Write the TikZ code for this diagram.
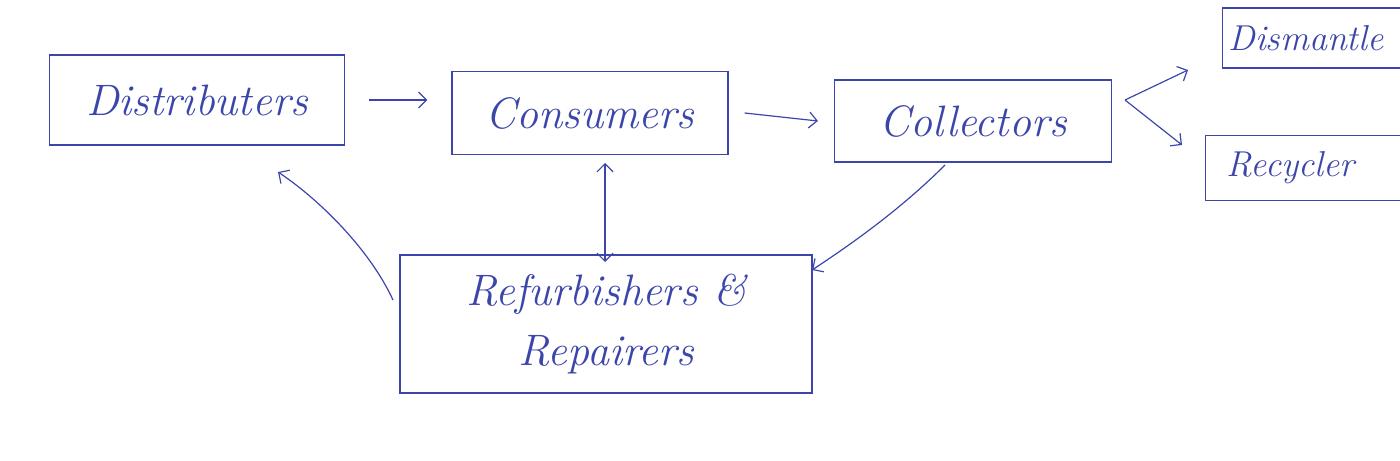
\documentclass[tikz,border=0pt]{standalone}
\usetikzlibrary{arrows.meta}
\definecolor{ink}{RGB}{60,70,170}
\begin{document}
\begin{tikzpicture}[x=0.5pt,y=-0.5pt,
  box/.style={draw=ink,line width=0.6pt,inner sep=0pt,text=ink,font=\fontsize{22}{30}\selectfont\itshape},
  sbox/.style={box,font=\fontsize{18}{24}\selectfont\itshape,anchor=west,minimum width=110pt},
  arr/.style={draw=ink,line width=0.6pt,-{Straight Barb[length=4pt]}}]
\useasboundingbox (0,0) rectangle (1400,460);
\clip (0,0) rectangle (1400,460);
\node[box,minimum width=147.5pt,minimum height=45pt] (dist) at (197,100) {Distributers};
\node[box,minimum width=138pt,minimum height=41.5pt] (cons) at (590,113) {Consumers};
\node[box,minimum width=138.5pt,minimum height=41pt] (coll) at (973,121) {Collectors};
\node[sbox,minimum height=30pt] (dism) at (1222,38) {\hspace*{3pt}Dismantle\hspace*{30pt}};
\node[sbox,minimum height=32.5pt] (recy) at (1205,168) {\hspace*{5pt}Recycler\hspace*{30pt}};
\node[box,minimum width=206pt,minimum height=69pt,align=center] (refu) at (606,324) {Refurbishers \&\\ Repairers};
\draw[arr] (dist.east)+(12pt,0) -- ([xshift=-12pt]cons.west |- dist.east);
\draw[arr] ([xshift=8pt]cons.east) -- ([xshift=-8pt]coll.west);
\coordinate (fork) at (1125,100);
\draw[arr] (fork) -- (1188,70);
\draw[arr] (fork) -- (1182,145);
\draw[draw=ink,line width=0.6pt,{Straight Barb[length=4pt]}-{Straight Barb[length=4pt]}] (605,163) -- (605,262);
\draw[arr] (945,165) .. controls (900,210) and (850,245) .. (812,270);
\draw[arr] (393,300) .. controls (370,250) and (320,200) .. (278,172);
\end{tikzpicture}
\end{document}
